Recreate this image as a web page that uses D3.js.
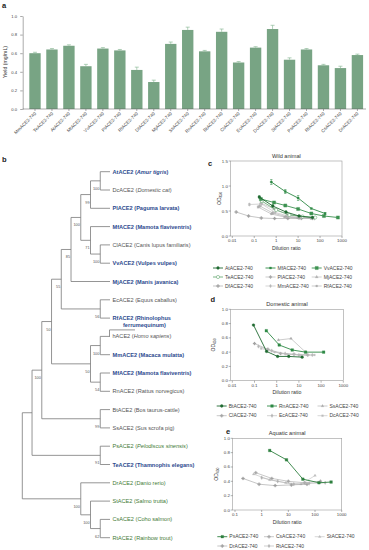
<!DOCTYPE html>
<html><head><meta charset="utf-8">
<script src="https://cdn.jsdelivr.net/npm/d3@7"></script>
<style>body{margin:0;background:#fff}svg{display:block;font-family:"Liberation Sans",Arial,sans-serif}</style>
</head><body><svg id="fig" width="369" height="550"></svg>
<script>
// ---------- Panel a data ----------
const yieldCategories = ["MmACE2-740","TeACE2-740","AtACE2-740","MfACE2-740","VvACE2-740","PlACE2-740","RfACE2-740","DfACE2-740","MjACE2-740","SsACE2-740","RnACE2-740","BtACE2-740","ClACE2-740","EcACE2-740","DcACE2-740","StACE2-740","PsACE2-740","RtACE2-740","CsACE2-740","DrACE2-740"];
const yieldValues = [0.60,0.64,0.68,0.46,0.65,0.63,0.42,0.29,0.70,0.85,0.62,0.83,0.50,0.66,0.86,0.53,0.64,0.47,0.44,0.58];
const yieldErrors = [0.01,0.01,0.01,0.02,0.01,0.01,0.03,0.02,0.02,0.03,0.01,0.03,0.01,0.01,0.04,0.02,0.01,0.01,0.02,0.01];
const yieldTicks = [0,0.2,0.4,0.6,0.8,1.0];

// ---------- Panel b data ----------
const treeNewick = "(((((((((AtACE2,DcACE2)100,PlACE2)99,(MfACE2,(ClACE2,VvACE2)100)71)100,MjACE2)85,(EcACE2,RfACE2)56)55,((hACE2,MmACE2)100,(MfACE2b,RnACE2)54)50)50,(BtACE2,SsACE2)99)100,(PsACE2,TeACE2)91),(DrACE2,(StACE2,(CsACE2,RtACE2)62)100)100);";
const leafIds = ["AtACE2","DcACE2","PlACE2","MfACE2","ClACE2","VvACE2","MjACE2","EcACE2","RfACE2","hACE2","MmACE2","MfACE2b","RnACE2","BtACE2","SsACE2","PsACE2","TeACE2","DrACE2","StACE2","CsACE2","RtACE2"];
const leafLabels = ["AtACE2","DcACE2","PlACE2","MfACE2","ClACE2","VvACE2","MjACE2","EcACE2","RfACE2","hACE2","MmACE2","MfACE2","RnACE2","BtACE2","SsACE2","PsACE2","TeACE2","DrACE2","StACE2","CsACE2","RtACE2"];
const leafSpecies = ["Amur tigris","Domestic cat","Paguma larvata","Mamota flaviventris","Canis lupus familiaris","Vulpes vulpes","Manis javanica","Equus caballus","Rhinolophus|ferrumequinum","Homo sapiens","Macaca mulatta","Mamota flaviventris","Rattus norvegicus","Bos taurus-cattle","Sus scrofa pig","Pelodiscus sinensis","Thamnophis elegans","Danio rerio","Salmo trutta","Coho salmon","Rainbow trout"];
const leafGroup = ["wild","dom","wild","wild","dom","wild","wild","dom","wild","dom","wild","wild","dom","dom","dom","aqua","wild","aqua","aqua","aqua","aqua"];
const leafItalic = ["AtACE2","DcACE2","hACE2","PsACE2"];

// ---------- Panel c data ----------
const wildNames = ["AtACE2-740","MfACE2-740","VvACE2-740","TeACE2-740","PlACE2-740","MjACE2-740","DfACE2-740","MmACE2-740","RfACE2-740"];
const wildDilution = [
  [0.17,0.7,2.8,11,45],
  [0.6,2.6,10,40,170],
  [0.2,0.8,2.6,10,40,150,650],
  [0.22,1,4,16,60],
  [0.18,0.7,2.8,11,45],
  [0.2,0.8,3.2,13,50],
  [0.015,0.055,0.21,0.85,3.4,14],
  [0.06,0.22,0.9,3.5,14,55],
  [0.15,0.6,2.4,9.6,38]
];
const wildOD = [
  [0.78,0.60,0.48,0.40,0.37],
  [1.08,0.89,0.76,0.55,0.45],
  [0.74,0.67,0.61,0.54,0.45,0.40,0.37],
  [0.70,0.52,0.42,0.39,0.37],
  [0.60,0.46,0.39,0.36,0.35],
  [0.66,0.54,0.44,0.39,0.36],
  [0.48,0.40,0.36,0.35,0.35,0.35],
  [0.63,0.64,0.47,0.40,0.37,0.35],
  [0.58,0.44,0.38,0.36,0.35]
];
const wildErr = [
  [0.02,0.02,0.01,0.01,0.01],
  [0.05,0.04,0.05,0.01,0.02],
  [0.02,0.01,0.01,0.01,0.01,0.01,0.01],
  [0.02,0.01,0.01,0.01,0.01],
  [0.01,0.01,0.01,0.01,0.01],
  [0.02,0.01,0.01,0.01,0.01],
  [0.01,0.01,0.01,0.01,0.01,0.01],
  [0.02,0.01,0.01,0.01,0.01,0.01],
  [0.02,0.01,0.01,0.01,0.01]
];
const wildXTicks = [0.01,0.1,1,10,100,1000];
const wildYTicks = [0,0.5,1.0,1.5];

// ---------- Panel d data ----------
const domNames = ["BtACE2-740","RnACE2-740","SsACE2-740","ClACE2-740","EcACE2-740","DcACE2-740"];
const domDilution = [
  [0.09,0.35,1.1,3.5,14],
  [0.34,1.3,5,20,130],
  [1.2,4.4,20],
  [0.1,0.4,1.5,6,25],
  [0.15,0.6,2.4,10,40],
  [0.2,0.8,3,12,50]
];
const domOD = [
  [0.78,0.41,0.34,0.34,0.33],
  [0.70,0.50,0.43,0.40,0.40],
  [0.57,0.59,0.40],
  [0.52,0.44,0.38,0.37,0.36],
  [0.48,0.42,0.38,0.36,0.36],
  [0.45,0.40,0.37,0.36,0.36]
];
const domXTicks = [0.01,0.1,1,10,100,1000];
const domYTicks = [0,0.2,0.4,0.6,0.8,1.0];

// ---------- Panel e data ----------
const aquaNames = ["PsACE2-740","CsACE2-740","StACE2-740","DrACE2-740","RtACE2-740"];
const aquaDilution = [
  [2,8.5,35,140,400],
  [0.6,2.4,10,40,160],
  [0.5,2,8,30,100],
  [0.2,0.8,3.2,13,50],
  [1,4,16,60,240]
];
const aquaOD = [
  [0.83,0.70,0.43,0.38,0.39],
  [0.52,0.44,0.40,0.38,0.40],
  [0.50,0.42,0.38,0.36,0.48],
  [0.44,0.36,0.34,0.35,0.36],
  [0.45,0.40,0.36,0.37,0.38]
];
const aquaXTicks = [0.1,1,10,100,1000];
const aquaYTicks = [0,0.2,0.4,0.6,0.8,1.0];

// ================= drawing =================
const svg = d3.select("#fig");
const FONT = '"Liberation Sans",Arial,sans-serif';

function panelLetter(t, x, y){
  svg.append("text").attr("x",x).attr("y",y).attr("font-size",7.5).attr("font-weight","bold").attr("fill","#222").text(t);
}

// ---------- Panel a ----------
(function(){
  panelLetter("a", 2, 8);
  const x = d3.scaleBand().domain(yieldCategories).range([26.5, 365.9]).paddingInner(0.33).paddingOuter(0.165);
  const y = d3.scaleLinear().domain([0,1]).range([109, 16]);
  const g = svg.append("g");
  g.selectAll("rect.bar").data(yieldValues).join("rect")
    .attr("x",(d,i)=>x(yieldCategories[i])).attr("width",x.bandwidth())
    .attr("y",d=>y(d)).attr("height",d=>y(0)-y(d)).attr("fill","#78a484");
  // error bars
  yieldValues.forEach((v,i)=>{
    const cx = x(yieldCategories[i]) + x.bandwidth()/2;
    g.append("line").attr("x1",cx).attr("x2",cx).attr("y1",y(v)).attr("y2",y(v+yieldErrors[i])).attr("stroke","#8fbb9b").attr("stroke-width",0.7);
    g.append("line").attr("x1",cx-2).attr("x2",cx+2).attr("y1",y(v+yieldErrors[i])).attr("y2",y(v+yieldErrors[i])).attr("stroke","#8fbb9b").attr("stroke-width",0.7);
  });
  const ya = d3.axisLeft(y).tickValues(yieldTicks).tickFormat(d3.format(".1f")).tickSize(2.5).tickSizeOuter(0);
  const yg = g.append("g").attr("transform","translate(22.7,0)").call(ya);
  yg.selectAll("text").attr("font-size",4.2).attr("fill","#444").attr("font-family",FONT);
  yg.selectAll("line,path").attr("stroke","#555").attr("stroke-width",0.5);
  const xa = d3.axisBottom(x).tickSize(2).tickSizeOuter(0);
  const xg = g.append("g").attr("transform","translate(0,109)").call(xa);
  xg.select("path").attr("d","M22.7,0H366").attr("stroke","#555").attr("stroke-width",0.5);
  xg.selectAll("line").attr("stroke","#555").attr("stroke-width",0.5);
  xg.selectAll("text").attr("font-size",4.6).attr("fill","#444").attr("font-family",FONT)
    .attr("text-anchor","end").attr("dy",0).attr("y",0)
    .attr("transform","translate(1.5,5) rotate(-45)");
  g.append("text").attr("transform","translate(6.5,62) rotate(-90)").attr("text-anchor","middle")
    .attr("font-size",5.2).attr("fill","#333").text("Yield (mg/mL)");
})();

// ---------- Panel b ----------
(function(){
  panelLetter("b", 2, 162);
  function parseNewick(s){
    let i=0;
    function node(){
      const n={};
      if(s[i]==='('){
        i++; n.children=[];
        while(true){ n.children.push(node()); if(s[i]===','){i++;} else break; }
        i++;
      }
      let lab='';
      while(i<s.length && !",();".includes(s[i])) lab+=s[i++];
      if(n.children) n.boot=lab; else n.name=lab;
      return n;
    }
    return node();
  }
  const root = d3.hierarchy(parseNewick(treeNewick));
  d3.cluster().separation(()=>1).size([1,1])(root);
  const leaves = root.leaves();
  const ly = d3.scaleLinear().domain([leaves[0].x, leaves[leaves.length-1].x]).range([171.7, 537.7]);
  const lx = d3.scaleLinear().domain([0,1]).range([22.3, 110]);
  const g = svg.append("g").attr("stroke","#7a7a7a").attr("stroke-width",0.8).attr("fill","none");
  root.each(n=>{
    if(!n.children) return;
    const xs = n.children.map(c=>ly(c.x));
    g.append("line").attr("x1",lx(n.y)).attr("x2",lx(n.y)).attr("y1",d3.min(xs)).attr("y2",d3.max(xs));
    n.children.forEach(c=>{
      g.append("line").attr("x1",lx(n.y)).attr("x2",lx(c.y)).attr("y1",ly(c.x)).attr("y2",ly(c.x));
    });
    if(n.data.boot){
      svg.append("text").attr("x",lx(n.y)-1).attr("y",ly(n.x)+9).attr("text-anchor","end")
        .attr("font-size",3.8).attr("fill","#555").text(n.data.boot);
    }
  });
  const colors = {wild:"#2c4a8e", dom:"#555555", aqua:"#3f7a35"};
  leaves.forEach(lf=>{
    const idx = leafIds.indexOf(lf.data.name);
    const yy = ly(lf.x);
    const grp = leafGroup[idx];
    const t = svg.append("text").attr("x",112.5).attr("y",yy+2).attr("font-size",5.6)
      .attr("fill",colors[grp]).attr("font-weight",grp==="wild"?"bold":"normal");
    const sp = leafSpecies[idx].split("|");
    const ital = leafItalic.includes(lf.data.name);
    t.append("tspan").text(leafLabels[idx]+" (");
    t.append("tspan").attr("font-style",ital?"italic":"normal").text(sp[0]+(sp.length>1?"":""));
    if(sp.length===1) t.append("tspan").text(")");
    if(sp.length>1){
      svg.append("text").attr("x",123).attr("y",yy+9.3).attr("font-size",5.6).attr("fill",colors[grp])
        .attr("font-weight",grp==="wild"?"bold":"normal").text(sp[1]+")");
    }
    if(lf.data.name==="hACE2"){
      g.append("path").attr("d",`M109.5,${yy}V${yy-6.5}H135`);
    }
  });
})();

// ---------- Curve panels ----------
function curvePanel(cfg){
  const x = d3.scaleLog().domain(cfg.xDomain).range(cfg.xRange);
  const y = d3.scaleLinear().domain(cfg.yDomain).range(cfg.yRange);
  const g = svg.append("g");
  const left = cfg.frameLeft, right = cfg.xRange[1], top = y(cfg.yDomain[1]), bottom = y(0);
  g.append("rect").attr("x",left).attr("y",top).attr("width",right-left).attr("height",bottom-top)
    .attr("fill","none").attr("stroke","#9a9a9a").attr("stroke-width",0.6);
  // y axis
  cfg.yTicks.forEach(t=>{
    g.append("line").attr("x1",left-2).attr("x2",left).attr("y1",y(t)).attr("y2",y(t)).attr("stroke","#666").attr("stroke-width",0.5);
    g.append("text").attr("x",left-2.8).attr("y",y(t)+1.5).attr("text-anchor","end").attr("font-size",4.4).attr("fill","#444").text(cfg.yFmt(t));
  });
  cfg.xTicks.forEach(t=>{
    g.append("line").attr("x1",x(t)).attr("x2",x(t)).attr("y1",bottom).attr("y2",bottom+2).attr("stroke","#666").attr("stroke-width",0.5);
    g.append("text").attr("x",x(t)).attr("y",bottom+6.3).attr("text-anchor","middle").attr("font-size",4.4).attr("fill","#444").text(String(t));
  });
  g.append("text").attr("x",(left+right)/2).attr("y",bottom+13.5).attr("text-anchor","middle").attr("font-size",5.2).attr("fill","#333").text("Dilution ratio");
  g.append("text").attr("x",(left+right)/2).attr("y",top-3.5).attr("text-anchor","middle").attr("font-size",5.6).attr("fill","#333").text(cfg.title);
  const od = g.append("text").attr("transform",`translate(${cfg.odX},${(top+bottom)/2}) rotate(-90)`).attr("text-anchor","middle").attr("font-size",5).attr("fill","#333");
  od.append("tspan").text("OD");
  od.append("tspan").attr("font-size",3.3).attr("dy",1.2).text("450");
  panelLetter(cfg.letter, cfg.letterX, cfg.letterY);
  // series: draw gray first then green on top
  const order = d3.range(cfg.names.length).sort((a,b)=>(cfg.colors[a]==="g"?0:1)-(cfg.colors[b]==="g"?0:1)).reverse();
  const line = d3.line().x(d=>x(d[0])).y(d=>y(d[1]));
  order.slice().reverse().reverse();
  const drawOrder = d3.range(cfg.names.length).filter(i=>cfg.styles[i].gray).concat(d3.range(cfg.names.length).filter(i=>!cfg.styles[i].gray).reverse());
  drawOrder.forEach(i=>{
    const st = cfg.styles[i];
    const pts = cfg.xs[i].map((v,j)=>[v, cfg.ys[i][j]]);
    g.append("path").attr("d",line(pts)).attr("fill","none").attr("stroke",st.color).attr("stroke-width",st.gray?0.6:0.9);
    if(cfg.errs){
      pts.forEach((p,j)=>{
        const e = cfg.errs[i][j];
        if(e>0.015){
          g.append("line").attr("x1",x(p[0])).attr("x2",x(p[0])).attr("y1",y(p[1]-e)).attr("y2",y(p[1]+e)).attr("stroke",st.color).attr("stroke-width",0.5);
          [p[1]-e,p[1]+e].forEach(v=>g.append("line").attr("x1",x(p[0])-1.2).attr("x2",x(p[0])+1.2).attr("y1",y(v)).attr("y2",y(v)).attr("stroke",st.color).attr("stroke-width",0.5));
        }
      });
    }
    const sym = d3.symbol().type(st.shape).size(st.size);
    pts.forEach(p=>{
      g.append("path").attr("d",sym()).attr("transform",`translate(${x(p[0])},${y(p[1])})`)
        .attr("fill",st.open?"#fff":st.color).attr("stroke",st.color).attr("stroke-width",st.open?0.6:0.3);
    });
  });
  // legend
  cfg.names.forEach((nm,i)=>{
    const st = cfg.styles[i];
    const col = i % 3, row = Math.floor(i/3);
    const mx = cfg.legCols[col], my = cfg.legRows[row];
    g.append("line").attr("x1",mx-5).attr("x2",mx+5).attr("y1",my).attr("y2",my).attr("stroke",st.color).attr("stroke-width",st.gray?0.6:0.9);
    g.append("path").attr("d",d3.symbol().type(st.shape).size(st.size)()).attr("transform",`translate(${mx},${my})`)
      .attr("fill",st.open?"#fff":st.color).attr("stroke",st.color).attr("stroke-width",st.open?0.6:0.3);
    g.append("text").attr("x",mx+7).attr("y",my+1.7).attr("font-size",5).attr("fill","#444").text(nm);
  });
}

const S = d3;
const wildStyles = [
  {color:"#1f6a31", shape:S.symbolCircle, size:6},
  {color:"#2f8a46", shape:S.symbolSquare, size:4},
  {color:"#3d9251", shape:S.symbolSquare, size:10},
  {color:"#6dad78", shape:S.symbolCircle, size:8, open:true},
  {color:"#a9a9a9", shape:S.symbolCross, size:5, gray:true},
  {color:"#b3b3b3", shape:S.symbolTriangle, size:4, gray:true},
  {color:"#a0a0a0", shape:S.symbolCross, size:5, gray:true},
  {color:"#b8b8b8", shape:S.symbolDiamond, size:4, gray:true},
  {color:"#aaaaaa", shape:S.symbolSquare, size:3, gray:true}
];
curvePanel({
  names:wildNames, xs:wildDilution, ys:wildOD, errs:wildErr, styles:wildStyles, colors:[],
  xDomain:[0.01,1000], xRange:[232.3,342], yDomain:[0,1.5], yRange:[236,161], frameLeft:230.7,
  xTicks:wildXTicks, yTicks:wildYTicks, yFmt:d3.format(".1f"),
  title:"Wild animal", letter:"c", letterX:208, letterY:166, odX:220.5,
  legCols:[218,270.5,316.7], legRows:[268,277,286]
});

const domStyles = [
  {color:"#1f6a31", shape:S.symbolCircle, size:6},
  {color:"#2f8a46", shape:S.symbolSquare, size:7},
  {color:"#aaaaaa", shape:S.symbolTriangle, size:3, gray:true},
  {color:"#a5a5a5", shape:S.symbolCross, size:5, gray:true},
  {color:"#b5b5b5", shape:S.symbolDiamond, size:4, gray:true},
  {color:"#bdbdbd", shape:S.symbolSquare, size:3, gray:true}
];
curvePanel({
  names:domNames, xs:domDilution, ys:domOD, styles:domStyles, colors:[],
  xDomain:[0.01,1000], xRange:[232.3,343.3], yDomain:[0,1.0], yRange:[380.7,309.3], frameLeft:230.7,
  xTicks:domXTicks, yTicks:domYTicks, yFmt:d3.format(".1f"),
  title:"Domestic animal", letter:"d", letterX:210.5, letterY:301.5, odX:214.5,
  legCols:[221.7,272,322.5], legRows:[406,415.7]
});

const aquaStyles = [
  {color:"#2f8040", shape:S.symbolSquare, size:7},
  {color:"#a5a5a5", shape:S.symbolCross, size:5, gray:true},
  {color:"#bdbdbd", shape:S.symbolTriangle, size:3, gray:true},
  {color:"#a0a0a0", shape:S.symbolCross, size:5, gray:true},
  {color:"#b0b0b0", shape:S.symbolDiamond, size:4, gray:true}
];
curvePanel({
  names:aquaNames, xs:aquaDilution, ys:aquaOD, styles:aquaStyles, colors:[],
  xDomain:[0.1,1000], xRange:[235,341.7], yDomain:[0,1.0], yRange:[510,438.3], frameLeft:232.7,
  xTicks:aquaXTicks, yTicks:aquaYTicks, yFmt:d3.format(".1f"),
  title:"Aquatic animal", letter:"e", letterX:226, letterY:434, odX:217.5,
  legCols:[222.3,269,319.7], legRows:[536.7,546]
});
</script>
</body></html>
